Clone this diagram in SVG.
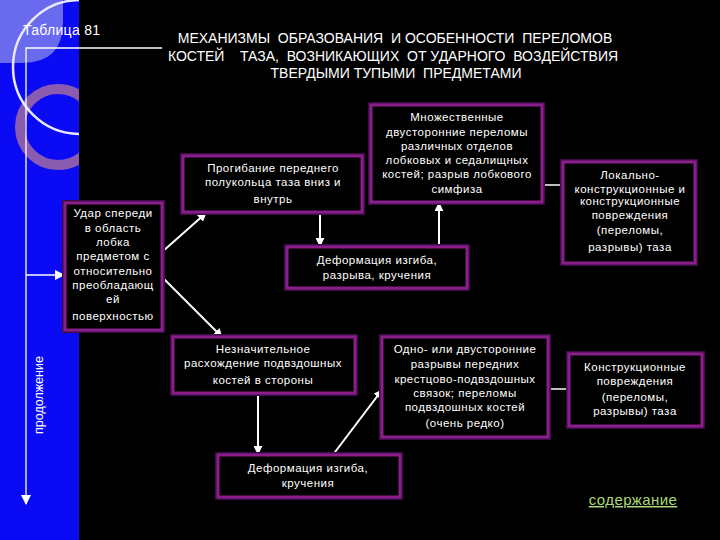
<svg xmlns="http://www.w3.org/2000/svg" width="720" height="540" viewBox="0 0 720 540">
<style>
.box{fill:#000;stroke:#8a1e8a;stroke-width:3}
.glow{fill:none;stroke:#3e0c44;stroke-width:6}
.t{font-family:"Liberation Sans",Arial,sans-serif;font-size:11.5px;letter-spacing:0.5px;fill:#fff;text-anchor:middle}
.title{font-family:"Liberation Sans",Arial,sans-serif;font-size:14px;fill:#fff;text-anchor:middle}
.c{stroke:#fff;stroke-width:2;fill:none}
</style>
<defs>
<marker id="ah" viewBox="0 0 10 10" refX="9" refY="5" markerWidth="4.5" markerHeight="4.5" orient="auto" markerUnits="strokeWidth">
<path d="M0,0 L10,5 L0,10 z" fill="#fff"/>
</marker>
<marker id="ah2" viewBox="0 0 10 10" refX="9" refY="5" markerWidth="8" markerHeight="8" orient="auto" markerUnits="strokeWidth">
<path d="M0,0 L10,5 L0,10 z" fill="#fff"/>
</marker>
<clipPath id="band"><rect x="0" y="0" width="79" height="540"/></clipPath>
</defs>
<rect x="0" y="0" width="720" height="540" fill="#000"/>
<g id="background">
<rect x="0" y="0" width="79" height="540" fill="#0a0af5"/>
<path d="M0,0 H63 V22 Q63,63 22,63 H0 Z" fill="#6a6aee"/>
<g clip-path="url(#band)">
<circle cx="58" cy="127" r="38" fill="none" stroke="#8a5cb0" stroke-width="10"/>
<circle cx="80" cy="67" r="67" fill="none" stroke="#e8e8ff" stroke-width="2.5"/>
</g>
</g>
<g id="heading">
<text x="23" y="35" font-family="Liberation Sans,Arial,sans-serif" font-size="14" letter-spacing="0.3" fill="#fff">Таблица 81</text>
<text class="title" x="395" y="43" xml:space="preserve">МЕХАНИЗМЫ  ОБРАЗОВАНИЯ  И ОСОБЕННОСТИ  ПЕРЕЛОМОВ</text>
<text class="title" x="393" y="61" xml:space="preserve">КОСТЕЙ    ТАЗА,  ВОЗНИКАЮЩИХ  ОТ УДАРНОГО  ВОЗДЕЙСТВИЯ</text>
<text class="title" x="396" y="78" xml:space="preserve">ТВЕРДЫМИ ТУПЫМИ  ПРЕДМЕТАМИ</text>
<text x="40" y="395" transform="rotate(-90 40 395)" font-family="Liberation Sans,Arial,sans-serif" font-size="12.5" fill="#fff" text-anchor="middle" dominant-baseline="middle">продолжение</text>
</g>
<g id="connectors">
<polyline points="162,48 26,48 26,504" fill="none" stroke="#fff" stroke-width="1.3" marker-end="url(#ah2)"/>
<line x1="26" y1="275" x2="64" y2="275" stroke="#fff" stroke-width="1.3" marker-end="url(#ah2)"/>
<line class="c" x1="162" y1="252" x2="206" y2="213" marker-end="url(#ah)"/>
<line class="c" x1="162" y1="277" x2="222" y2="337" marker-end="url(#ah)"/>
<line class="c" x1="320" y1="212" x2="320" y2="246" marker-end="url(#ah)"/>
<line class="c" x1="439" y1="247" x2="439" y2="203" marker-end="url(#ah)"/>
<line class="c" x1="258" y1="393" x2="258" y2="454" marker-end="url(#ah)"/>
<line class="c" x1="332" y1="456" x2="382" y2="390" marker-end="url(#ah)"/>
<line x1="542" y1="185" x2="563" y2="185" stroke="#fff" stroke-width="1.5"/>
<line x1="548" y1="389" x2="569" y2="389" stroke="#fff" stroke-width="1.5"/>
</g>
<g id="n1">
<rect class="glow" x="65" y="203" width="97" height="127"/>
<rect class="box" x="65" y="203" width="97" height="127"/>
<text class="t"><tspan x="113" y="217">Удар спереди</tspan><tspan x="113" y="232">в область</tspan><tspan x="113" y="246">лобка</tspan><tspan x="113" y="260">предметом с</tspan><tspan x="113" y="275">относительно</tspan><tspan x="113" y="289">преобладающ</tspan><tspan x="113" y="303">ей</tspan><tspan x="113" y="320">поверхностью</tspan></text>
</g>
<g id="n2">
<rect class="glow" x="183" y="156" width="179" height="56"/>
<rect class="box" x="183" y="156" width="179" height="56"/>
<text class="t"><tspan x="273" y="172">Прогибание переднего</tspan><tspan x="273" y="186">полукольца таза вниз и</tspan><tspan x="273" y="203">внутрь</tspan></text>
</g>
<g id="n3">
<rect class="glow" x="371" y="105" width="171" height="97"/>
<rect class="box" x="371" y="105" width="171" height="97"/>
<text class="t"><tspan x="457" y="121">Множественные</tspan><tspan x="457" y="136">двусторонние переломы</tspan><tspan x="457" y="150">различных отделов</tspan><tspan x="457" y="164">лобковых и седалищных</tspan><tspan x="457" y="178">костей; разрыв лобкового</tspan><tspan x="457" y="193">симфиза</tspan></text>
</g>
<g id="n4">
<rect class="glow" x="287" y="247" width="180" height="41"/>
<rect class="box" x="287" y="247" width="180" height="41"/>
<text class="t"><tspan x="377" y="264">Деформация изгиба,</tspan><tspan x="377" y="279">разрыва, кручения</tspan></text>
</g>
<g id="n5">
<rect class="glow" x="563" y="162" width="132" height="101"/>
<rect class="box" x="563" y="162" width="132" height="101"/>
<text class="t"><tspan x="630" y="179">Локально-</tspan><tspan x="630" y="193">конструкционные и</tspan><tspan x="630" y="205">конструкционные</tspan><tspan x="630" y="219">повреждения</tspan><tspan x="630" y="234">(переломы,</tspan><tspan x="630" y="251">разрывы) таза</tspan></text>
</g>
<g id="n6">
<rect class="glow" x="173" y="337" width="182" height="56"/>
<rect class="box" x="173" y="337" width="182" height="56"/>
<text class="t"><tspan x="263" y="353">Незначительное</tspan><tspan x="263" y="367">расхождение подвздошных</tspan><tspan x="263" y="384">костей в стороны</tspan></text>
</g>
<g id="n7">
<rect class="glow" x="382" y="337" width="166" height="100"/>
<rect class="box" x="382" y="337" width="166" height="100"/>
<text class="t"><tspan x="465" y="353">Одно- или двусторонние</tspan><tspan x="465" y="368">разрывы передних</tspan><tspan x="465" y="383">крестцово-подвздошных</tspan><tspan x="465" y="397">связок; переломы</tspan><tspan x="465" y="411">подвздошных костей</tspan><tspan x="465" y="427">(очень редко)</tspan></text>
</g>
<g id="n8">
<rect class="glow" x="218" y="455" width="182" height="42"/>
<rect class="box" x="218" y="455" width="182" height="42"/>
<text class="t"><tspan x="308" y="472">Деформация изгиба,</tspan><tspan x="308" y="487">кручения</tspan></text>
</g>
<g id="n9">
<rect class="glow" x="569" y="354" width="133" height="72"/>
<rect class="box" x="569" y="354" width="133" height="72"/>
<text class="t"><tspan x="635" y="371">Конструкционные</tspan><tspan x="635" y="385">повреждения</tspan><tspan x="635" y="401">(переломы,</tspan><tspan x="635" y="415">разрывы) таза</tspan></text>
</g>
<g id="link">
<text x="633" y="505" font-family="Liberation Sans,Arial,sans-serif" font-size="15" letter-spacing="0.4" fill="#a8d878" text-anchor="middle" text-decoration="underline">содержание</text>
</g>
</svg>
